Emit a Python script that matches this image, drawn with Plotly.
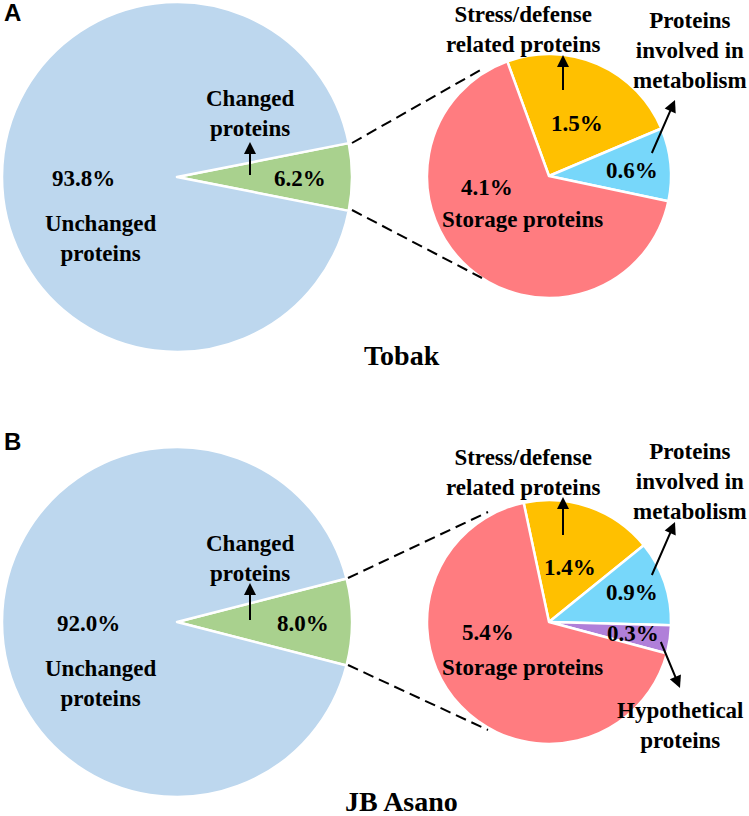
import plotly.graph_objects as go

W, H = 749, 816

# ---- data ----
overview_labels = ["Changed proteins", "Unchanged proteins"]
tobak_overview = [6.2, 93.8]
asano_overview = [8.0, 92.0]

tobak_cat_labels = ["Stress/defense related proteins", "Proteins involved in metabolism", "Storage proteins"]
tobak_cat_values = [1.5, 0.6, 4.1]

asano_cat_labels = ["Stress/defense related proteins", "Proteins involved in metabolism",
                    "Hypothetical proteins", "Storage proteins"]
asano_cat_values = [1.4, 0.9, 0.3, 5.4]

panel_titles = ["Tobak", "JB Asano"]
panel_letters = ["A", "B"]

# ---- styles ----
C_BLUE = "#BDD7EE"
C_GREEN = "#A9D18E"
C_RED = "#FF7C80"
C_YEL = "#FFC000"
C_CYAN = "#77D7FA"
C_PURP = "#B07FD9"
SERIF = "Liberation Serif, Times New Roman, serif"
SANS = "Liberation Sans, Arial, sans-serif"


def dom(cx, cy, r):
    return dict(x=[(cx - r) / W, (cx + r) / W], y=[1 - (cy + r) / H, 1 - (cy - r) / H])


fig = go.Figure()


def big_pie(vals, cx, cy):
    rot = 90 - vals[0] / sum(vals) * 360 / 2
    fig.add_trace(go.Pie(values=vals, labels=overview_labels, sort=False, direction="clockwise",
                         rotation=rot, marker=dict(colors=[C_GREEN, C_BLUE], line=dict(color="white", width=2.5)),
                         textinfo="none", hoverinfo="label+percent", showlegend=False,
                         domain=dom(cx, cy, 175)))


def small_pie(vals, labels, colors, rot, cx, cy):
    fig.add_trace(go.Pie(values=vals, labels=labels, sort=False, direction="clockwise",
                         rotation=rot, marker=dict(colors=colors, line=dict(color="white", width=2.5)),
                         textinfo="none", hoverinfo="label+value", showlegend=False,
                         domain=dom(cx, cy, 122)))


big_pie(tobak_overview, 177, 177)
small_pie(tobak_cat_values, tobak_cat_labels, [C_YEL, C_CYAN, C_RED], -20, 549, 176)
big_pie(asano_overview, 177, 622)
small_pie(asano_cat_values, asano_cat_labels, [C_YEL, C_CYAN, C_PURP, C_RED], -12, 549, 622)

annotations = []


def txt(s, x, y, size=23, font=SERIF):
    annotations.append(dict(text="<b>" + s + "</b>", x=x / W, y=1 - y / H, xref="paper", yref="paper",
                            xanchor="center", yanchor="middle", showarrow=False,
                            font=dict(family=font, size=size, color="black")))


def arrow(hx, hy, tx, ty):
    annotations.append(dict(text=" ", x=hx / W, y=1 - hy / H, xref="paper", yref="paper",
                            ax=tx - hx, ay=ty - hy, showarrow=True, arrowhead=2, arrowsize=1.2,
                            arrowwidth=2, arrowcolor="black", standoff=0, startstandoff=0,
                            font=dict(size=1)))


pct = lambda v: f"{v:.1f}%"

# Panel A
txt(panel_letters[0], 12, 13, size=24, font=SANS)
txt("Changed<br>proteins", 250, 114)
txt(pct(tobak_overview[1]), 83, 178)
txt("Unchanged<br>proteins", 100, 238)
txt(pct(tobak_overview[0]), 300, 178)
txt("Stress/defense<br>related proteins", 523, 30)
txt(pct(tobak_cat_values[0]), 577, 123)
txt("Proteins<br>involved in<br>metabolism", 690, 50)
txt(pct(tobak_cat_values[1]), 632, 170)
txt(pct(tobak_cat_values[2]), 487, 188)
txt("Storage proteins", 522, 220)
txt(panel_titles[0], 402, 355, size=28)
arrow(250, 142, 250, 177)
arrow(563, 55, 563, 92)
arrow(675, 100, 651, 155)

# Panel B
txt(panel_letters[1], 12, 442, size=24, font=SANS)
txt("Changed<br>proteins", 250, 558)
txt(pct(asano_overview[1]), 88, 623)
txt("Unchanged<br>proteins", 100, 683)
txt(pct(asano_overview[0]), 303, 623)
txt("Stress/defense<br>related proteins", 523, 472)
txt(pct(asano_cat_values[0]), 570, 567)
txt("Proteins<br>involved in<br>metabolism", 690, 481)
txt(pct(asano_cat_values[1]), 632, 592)
txt(pct(asano_cat_values[2]), 633, 633)
txt("Hypothetical<br>proteins", 680, 725)
txt(pct(asano_cat_values[3]), 488, 632)
txt("Storage proteins", 522, 667)
txt(panel_titles[1], 401, 801, size=28)
arrow(250, 583, 250, 622)
arrow(563, 497, 563, 537)
arrow(675, 522, 651, 577)
arrow(680, 688, 660, 640)

shapes = []


def dline(x0, y0, x1, y1):
    shapes.append(dict(type="line", xref="paper", yref="paper", x0=x0 / W, y0=1 - y0 / H,
                       x1=x1 / W, y1=1 - y1 / H, line=dict(color="black", width=2, dash="11px,6px")))


dline(352, 143, 484, 68)
dline(352, 210, 482, 278)
dline(348, 578, 488, 512)
dline(348, 665, 488, 730)

fig.update_layout(width=W, height=H, margin=dict(l=0, r=0, t=0, b=0),
                  paper_bgcolor="white", plot_bgcolor="white",
                  annotations=annotations, shapes=shapes)

fig.write_html("out.html", config={"displayModeBar": False},
               post_script="document.body.style.margin='0';document.body.style.padding='0';"
                           "document.body.style.overflow='hidden';")
